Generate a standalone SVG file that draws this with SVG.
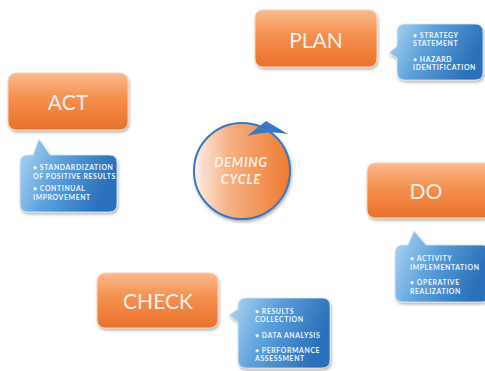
<svg xmlns="http://www.w3.org/2000/svg" width="485" height="371" viewBox="0 0 485 371">
<style>
.box{fill:url(#og);stroke:#fbd2b4;stroke-width:1;filter:url(#sh)}
.lbl{font-family:Lato,"Open Sans",sans-serif;font-size:21px;fill:#f6f1ea;text-anchor:middle}
.bub{fill:url(#bg);stroke:#d6e9f8;stroke-width:0.8;filter:url(#sh)}
.bt{font-family:Lato,"Open Sans",sans-serif;font-size:6.9px;font-weight:bold;fill:#eef6fd;letter-spacing:0.6px}
.ct{font-family:Lato,"Open Sans",sans-serif;font-size:13px;font-weight:bold;font-style:italic;fill:#fcefe6;text-anchor:middle;letter-spacing:0.7px}
</style>
<defs>
<linearGradient id="og" x1="0" y1="0" x2="0" y2="1">
<stop offset="0" stop-color="#fbb98d"/>
<stop offset="0.45" stop-color="#f48f4e"/>
<stop offset="1" stop-color="#e9712b"/>
</linearGradient>
<linearGradient id="bg" x1="0" y1="0" x2="1" y2="0.3">
<stop offset="0" stop-color="#b4d8f3"/>
<stop offset="0.45" stop-color="#5ea2dc"/>
<stop offset="1" stop-color="#2a70ba"/>
</linearGradient>
<linearGradient id="cg" x1="0" y1="0" x2="1" y2="0">
<stop offset="0" stop-color="#fdf1e8"/>
<stop offset="0.35" stop-color="#f6b286"/>
<stop offset="1" stop-color="#ee7a30"/>
</linearGradient>
<filter id="sh" x="-20%" y="-20%" width="140%" height="150%">
<feDropShadow dx="1" dy="2" stdDeviation="1.8" flood-color="#000" flood-opacity="0.3"/>
</filter>
</defs>
<rect width="485" height="371" fill="#ffffff"/>

<g id="plan">
<rect class="box" x="255" y="10" width="122" height="57" rx="8"/>
<text class="lbl" x="316" y="48">PLAN</text>
</g>
<g id="plan-notes">
<path class="bub" d="M405,24 H475 Q483,24 483,32 V72 Q483,80 475,80 H405 Q397,80 397,72 V58 L389,53 L397,46 V32 Q397,24 405,24 Z"/>
<text class="bt" x="413" y="38">• STRATEGY</text>
<text class="bt" x="413" y="46">STATEMENT</text>
<text class="bt" x="413" y="62">• HAZARD</text>
<text class="bt" x="413" y="70">IDENTIFICATION</text>
</g>

<g id="act">
<rect class="box" x="8" y="73" width="120" height="57" rx="8"/>
<text class="lbl" x="68" y="110">ACT</text>
</g>
<g id="act-notes">
<path class="bub" d="M28,155 H33 L39,139 L50,155 H109 Q117,155 117,163 V204 Q117,212 109,212 H28 Q20,212 20,204 V163 Q20,155 28,155 Z"/>
<text class="bt" x="33" y="170">• STANDARDIZATION</text>
<text class="bt" x="33" y="179">OF POSITIVE RESULTS</text>
<text class="bt" x="33" y="191">• CONTINUAL</text>
<text class="bt" x="33" y="200">IMPROVEMENT</text>
</g>

<g id="deming">
<circle cx="242" cy="171" r="48" fill="url(#cg)" stroke="#3b76c2" stroke-width="2" filter="url(#sh)"/>
<text class="ct" x="241" y="167">DEMING</text>
<text class="ct" x="241" y="184">CYCLE</text>
</g>

<g id="do">
<rect class="box" x="367" y="163" width="126" height="55" rx="8"/>
<text class="lbl" x="426" y="199">DO</text>
</g>
<g id="do-notes">
<path class="bub" d="M403,245 H408 L414,231 L426,245 H482 Q490,245 490,253 V294 Q490,302 482,302 H403 Q395,302 395,294 V253 Q395,245 403,245 Z"/>
<text class="bt" x="410" y="261">• ACTIVITY</text>
<text class="bt" x="410" y="270">IMPLEMENTATION</text>
<text class="bt" x="410" y="285">• OPERATIVE</text>
<text class="bt" x="410" y="294">REALIZATION</text>
</g>

<g id="check">
<rect class="box" x="97" y="273" width="121" height="55" rx="8"/>
<text class="lbl" x="158" y="309">CHECK</text>
</g>
<g id="check-notes">
<path class="bub" d="M246,298 H322 Q330,298 330,306 V360 Q330,368 322,368 H246 Q238,368 238,360 V322 L229,315 L238,309 V306 Q238,298 246,298 Z"/>
<text class="bt" x="255" y="314">• RESULTS</text>
<text class="bt" x="255" y="322">COLLECTION</text>
<text class="bt" x="255" y="338">• DATA ANALYSIS</text>
<text class="bt" x="255" y="353">• PERFORMANCE</text>
<text class="bt" x="255" y="361">ASSESSMENT</text>
</g>

<g id="connectors">
<path d="M247,136 L266,121 L288,134 Q268,130 247,136 Z" fill="#3b78c4"/>
</g>
</svg>
